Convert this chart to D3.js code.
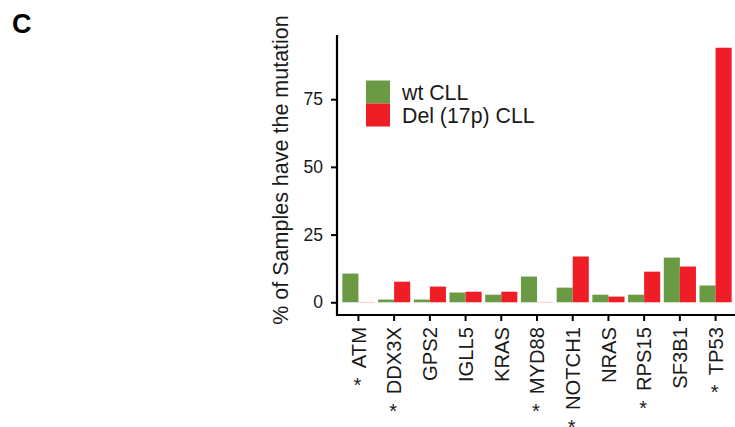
<html>
<head>
<meta charset="utf-8">
<script src="https://d3js.org/d3.v7.min.js"></script>
<style>
  body { margin: 0; background: #fff; }
  text { font-family: "Liberation Sans", Arial, sans-serif; }
</style>
</head>
<body>
<div id="chart"></div>
<script>
// genes on the x axis, and which ones get a star
const genes = ["ATM", "DDX3X", "GPS2", "IGLL5", "KRAS", "MYD88", "NOTCH1", "NRAS", "RPS15", "SF3B1", "TP53"];
const starred = ["ATM", "DDX3X", "MYD88", "NOTCH1", "RPS15", "TP53"];
// % of samples with the mutation
const wtValues  = [10.6, 1.0, 1.0, 3.6, 2.8, 9.5, 5.4, 2.8, 2.8, 16.5, 6.2];
const delValues = [0, 7.6, 5.8, 3.9, 3.9, 0, 16.9, 2.1, 11.3, 13.2, 94.0];
const yTicks = [0, 25, 50, 75];
const groups = ["wt CLL", "Del (17p) CLL"];
const colors = ["#6a9a43", "#ee1d26"];

const W = 735, H = 427;
const svg = d3.select("#chart").append("svg")
  .attr("width", W)
  .attr("height", H);

// panel edges
const pLeft = 337, pRight = 737, pTop = 35, pBottom = 315;

const x = d3.scaleBand()
  .domain(genes)
  .range([pLeft, pRight])
  .paddingInner(0)
  .paddingOuter(0.1);

// ggplot style 5% expansion around 0..94
const yMax = d3.max(delValues.concat(wtValues));
const pad = yMax * 0.05;
const y = d3.scaleLinear()
  .domain([-pad, yMax + pad])
  .range([pBottom, pTop]);

const sub = d3.scaleBand()
  .domain(groups)
  .range([0, x.bandwidth() * 0.9]);

const rows = genes.map(function(g, i) {
  return [
    {gene: g, group: groups[0], value: wtValues[i]},
    {gene: g, group: groups[1], value: delValues[i]}
  ];
}).flat();

svg.selectAll("rect.bar")
  .data(rows)
  .enter()
  .append("rect")
  .attr("class", "bar")
  .attr("x", function(d) { return x(d.gene) + x.bandwidth() * 0.05 + sub(d.group); })
  .attr("width", sub.bandwidth())
  .attr("y", function(d) { return d.value > 0 ? y(d.value) : y(0) - 0.5; })
  .attr("height", function(d) { return d.value > 0 ? y(0) - y(d.value) : 1; })
  .attr("fill", function(d) { return colors[groups.indexOf(d.group)]; })
  .attr("fill-opacity", function(d) { return d.value > 0 ? 1 : 0.25; });

// y axis
const yAxis = svg.append("g")
  .attr("transform", "translate(" + pLeft + ",0)")
  .call(d3.axisLeft(y).tickValues(yTicks).tickSize(6).tickPadding(8).tickSizeOuter(0));
yAxis.select(".domain").remove();
yAxis.append("line")
  .attr("x1", 0).attr("x2", 0)
  .attr("y1", pTop).attr("y2", pBottom + 1)
  .attr("stroke", "#000").attr("stroke-width", 2.2);
yAxis.selectAll(".tick line").attr("stroke", "#000").attr("stroke-width", 2);
yAxis.selectAll(".tick text")
  .attr("fill", "#1a1a1a")
  .style("font-size", "17.5px");

// x axis
const xAxis = svg.append("g")
  .attr("transform", "translate(0," + pBottom + ")")
  .call(d3.axisBottom(x).tickSize(6).tickPadding(6).tickSizeOuter(0));
xAxis.select(".domain").remove();
xAxis.append("line")
  .attr("x1", pLeft - 1).attr("x2", W)
  .attr("y1", 0).attr("y2", 0)
  .attr("stroke", "#000").attr("stroke-width", 2.2);
xAxis.selectAll(".tick line").attr("stroke", "#000").attr("stroke-width", 2);
xAxis.selectAll(".tick text")
  .attr("transform", "rotate(-90)")
  .attr("x", -12)
  .attr("y", 0)
  .attr("dy", "0.36em")
  .style("text-anchor", "end")
  .attr("fill", "#1a1a1a")
  .style("font-size", "20.2px");

// significance stars, upright, under the end of each rotated label
xAxis.selectAll(".tick").each(function(d) {
  if (starred.indexOf(d) < 0) return;
  const len = d3.select(this).select("text").node().getComputedTextLength();
  d3.select(this).append("text")
    .attr("x", -1)
    .attr("y", 12 + len + 13 + 11)
    .attr("text-anchor", "middle")
    .attr("fill", "#1a1a1a")
    .style("font-size", "20px")
    .text("*");
});

// y title
svg.append("text")
  .attr("transform", "translate(288,170) rotate(-90)")
  .attr("text-anchor", "middle")
  .style("font-size", "21.5px")
  .attr("fill", "#1a1a1a")
  .text("% of Samples have the mutation");

// legend
const legend = svg.append("g").attr("transform", "translate(366,80.5)");
groups.forEach(function(g, i) {
  legend.append("rect")
    .attr("x", 0).attr("y", i * 23)
    .attr("width", 24).attr("height", 23)
    .attr("fill", colors[i]);
  legend.append("text")
    .attr("x", 36).attr("y", i * 23 + 11.5)
    .attr("dy", "0.36em")
    .style("font-size", "21.3px")
    .attr("fill", "#1a1a1a")
    .text(g);
});

// panel letter
svg.append("text")
  .attr("x", 12).attr("y", 33)
  .style("font-size", "27px")
  .style("font-weight", "bold")
  .text("C");
</script>
</body>
</html>
